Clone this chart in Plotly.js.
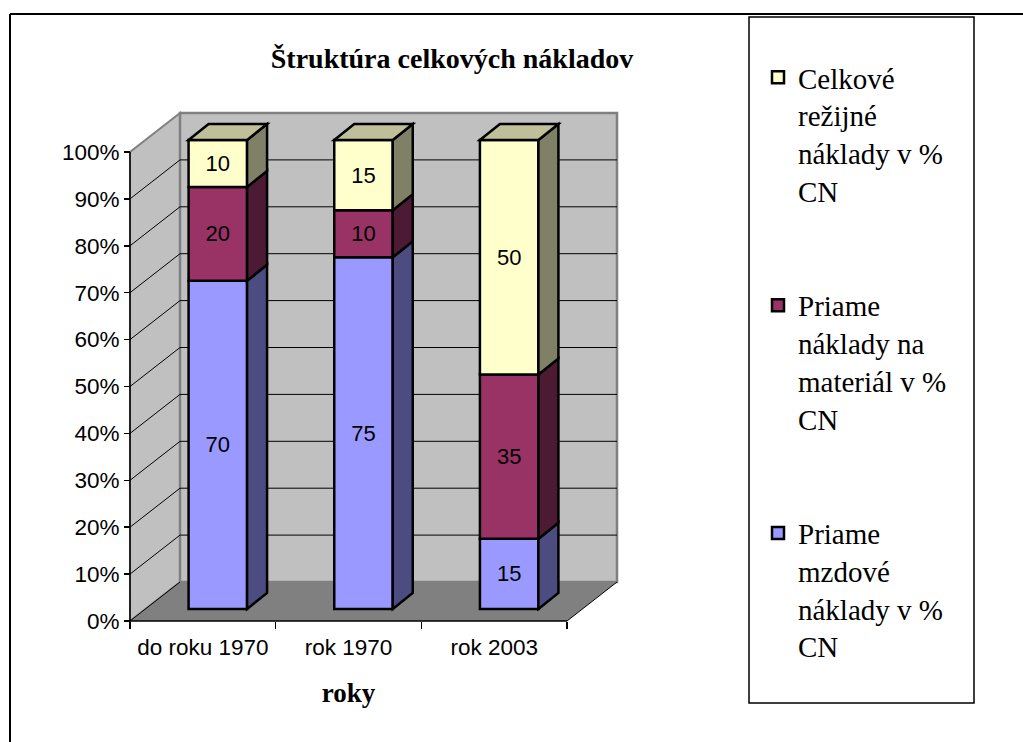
<!DOCTYPE html>
<html>
<head>
<meta charset="utf-8">
<script src="https://cdn.plot.ly/plotly-3.0.1.min.js"></script>
<style>html,body{margin:0;padding:0;background:#fff;}#chart{width:1023px;height:742px;}</style>
</head>
<body>
<div id="chart"></div>
<script>
// ---- data ----
const categories = ['do roku 1970', 'rok 1970', 'rok 2003'];
const priameMzdove = [70, 75, 15];
const priameMaterial = [20, 10, 35];
const celkoveRezijne = [10, 15, 50];
const seriesNames = [
  'Priame<br>mzdové<br>náklady v %<br>CN',
  'Priame<br>náklady na<br>materiál v %<br>CN',
  'Celkové<br>režijné<br>náklady v %<br>CN'
];
const yTickValues = [0, 10, 20, 30, 40, 50, 60, 70, 80, 90, 100];
const yTickLabels = yTickValues.map(v => v + '%');

// ---- geometry (pixels) ----
const W = 1023, H = 742;
const frontLeft = 130, frontRight = 567;     // x of category -0.5 and 2.5 on the front plane
const zeroY = 621, hundredY = 152;           // y of 0% and 100% on the front plane
const ux = (frontRight - frontLeft) / 3;     // px per category
const uy = (zeroY - hundredY) / 100;         // px per percent
const domLeft = 69, domRight = 628, domTop = 104, domBottom = 630;

const xRange = [-0.5 - (frontLeft - domLeft) / ux, -0.5 + (domRight - frontLeft) / ux];
const yRange = [-(domBottom - zeroY) / uy, (zeroY - domTop) / uy];

// depth offsets in data units
const wallDX = 50 / ux, wallDY = 39 / uy;
const barFX = 15 / ux, barFY = 12 / uy;
const barDX = 20 / ux, barDY = 16 / uy;
const barW = 58.5 / ux;
const barOffset = -barW / 2 + barFX;

const frontColors = ['#9999FF', '#993366', '#FFFFCC'];
const sideColors = ['#4C4C80', '#4D1A33', '#808066'];
const topColor = '#BFBF99';
const sansFont = 'Liberation Sans, Arial, sans-serif';
const serifFont = 'Liberation Serif, Times New Roman, serif';

const series = [priameMzdove, priameMaterial, celkoveRezijne];
const bases = [];
let running = categories.map(() => barFY);
series.forEach((vals) => {
  bases.push(running.slice());
  running = running.map((r, i) => r + vals[i]);
});

const traces = series.map((vals, s) => ({
  type: 'bar',
  name: seriesNames[s],
  legendgroup: 'g' + s,
  legendrank: series.length - s,
  x: categories,
  y: vals,
  base: bases[s],
  width: barW,
  offset: barOffset,
  marker: {color: frontColors[s], line: {color: '#000', width: 2.5}},
  text: vals.map(v => String(v)),
  texttemplate: '%{text}',
  textposition: 'inside',
  insidetextanchor: 'middle',
  constraintext: 'none',
  textangle: 0,
  textfont: {family: sansFont, size: 22, color: '#000'},
  hoverinfo: 'skip'
}));

const shapes = [];
const L = -0.5, R = 2.5;
// side wall
shapes.push({type: 'path', xref: 'x', yref: 'y', layer: 'below',
  path: `M${L},0 L${L + wallDX},${wallDY} L${L + wallDX},${100 + wallDY} L${L},100 Z`,
  fillcolor: '#C0C0C0', line: {color: '#808080', width: 2}});
// back wall
shapes.push({type: 'rect', xref: 'x', yref: 'y', layer: 'below',
  x0: L + wallDX, x1: R + wallDX, y0: wallDY, y1: 100 + wallDY,
  fillcolor: '#C0C0C0', line: {color: '#808080', width: 2.5}});
// floor
shapes.push({type: 'path', xref: 'x', yref: 'y', layer: 'below',
  path: `M${L},0 L${R},0 L${R + wallDX},${wallDY} L${L + wallDX},${wallDY} Z`,
  fillcolor: '#808080', line: {width: 0}});
// floor right edge
shapes.push({type: 'line', xref: 'x', yref: 'y', layer: 'below',
  x0: R, y0: 0, x1: R + wallDX, y1: wallDY, line: {color: '#000', width: 1}});
// gridlines
yTickValues.forEach(v => {
  if (v > 0 && v < 100) {
    shapes.push({type: 'line', xref: 'x', yref: 'y', layer: 'below',
      x0: L + wallDX, y0: v + wallDY, x1: R + wallDX, y1: v + wallDY, line: {color: '#000', width: 1}});
  }
  if (v < 100) {
    shapes.push({type: 'line', xref: 'x', yref: 'y', layer: 'below',
      x0: L, y0: v, x1: L + wallDX, y1: v + wallDY, line: {color: '#000', width: 1}});
  }
});
// bar side and top faces
series.forEach((vals, s) => {
  vals.forEach((v, i) => {
    const x1 = i + barOffset + barW;
    const y0 = bases[s][i], y1 = y0 + v;
    shapes.push({type: 'path', xref: 'x', yref: 'y', layer: 'above',
      path: `M${x1},${y0} L${x1 + barDX},${y0 + barDY} L${x1 + barDX},${y1 + barDY} L${x1},${y1} Z`,
      fillcolor: sideColors[s], line: {color: '#000', width: 2.5}});
    if (s === series.length - 1) {
      const x0 = i + barOffset;
      shapes.push({type: 'path', xref: 'x', yref: 'y', layer: 'above',
        path: `M${x0},${y1} L${x0 + barDX},${y1 + barDY} L${x1 + barDX},${y1 + barDY} L${x1},${y1} Z`,
        fillcolor: topColor, line: {color: '#000', width: 2.5}});
    }
  });
});
// axis lines
shapes.push({type: 'line', xref: 'x', yref: 'y', layer: 'above',
  x0: L, y0: 0, x1: L, y1: 100, line: {color: '#000', width: 1.5}});
shapes.push({type: 'line', xref: 'x', yref: 'y', layer: 'above',
  x0: L, y0: 0, x1: R, y1: 0, line: {color: '#000', width: 1.5}});
// legend box
shapes.push({type: 'rect', xref: 'paper', yref: 'paper',
  x0: 749 / W, x1: 974 / W, y0: (H - 703) / H, y1: (H - 17) / H,
  fillcolor: 'rgba(0,0,0,0)', line: {color: '#000', width: 1.5}});
// outer frame
shapes.push({type: 'line', xref: 'paper', yref: 'paper',
  x0: 10 / W, x1: 1.01, y0: (H - 14) / H, y1: (H - 14) / H, line: {color: '#000', width: 2}});
shapes.push({type: 'line', xref: 'paper', yref: 'paper',
  x0: 10 / W, x1: 10 / W, y0: (H - 14) / H, y1: -0.01, line: {color: '#000', width: 2}});

const layout = {
  width: W, height: H,
  margin: {l: 0, r: 0, t: 0, b: 0, pad: 0},
  paper_bgcolor: '#fff',
  plot_bgcolor: 'rgba(0,0,0,0)',
  barmode: 'overlay',
  title: {
    text: '<b>Štruktúra celkových nákladov</b>',
    font: {family: serifFont, size: 28, color: '#000'},
    x: 452 / W, xanchor: 'center', xref: 'paper',
    y: (H - 58) / H, yanchor: 'middle', yref: 'paper'
  },
  xaxis: {
    type: 'category',
    categoryorder: 'array', categoryarray: categories,
    domain: [domLeft / W, domRight / W],
    range: xRange,
    anchor: 'free', position: (H - zeroY) / H,
    showline: false, showgrid: false, zeroline: false,
    ticks: 'outside', tickson: 'boundaries', ticklen: 7, tickwidth: 1.5, tickcolor: '#000',
    ticklabelstandoff: 10,
    tickfont: {family: sansFont, size: 22.5, color: '#000'},
    title: {text: '<b>roky</b>', standoff: 24,
      font: {family: serifFont, size: 27, color: '#000'}},
    fixedrange: true
  },
  yaxis: {
    domain: [(H - domBottom) / H, (H - domTop) / H],
    range: yRange,
    anchor: 'free', position: frontLeft / W,
    showline: false, showgrid: false, zeroline: false,
    tickmode: 'array', tickvals: yTickValues, ticktext: yTickLabels,
    ticks: 'outside', ticklen: 6, tickwidth: 1.5, tickcolor: '#000',
    tickfont: {family: sansFont, size: 22.5, color: '#000'},
    fixedrange: true
  },
  showlegend: true,
  legend: {
    x: 758 / W, xanchor: 'left', y: (H - 52) / H, yanchor: 'top',
    traceorder: 'grouped', tracegroupgap: 74, valign: 'top',
    bgcolor: 'rgba(0,0,0,0)', borderwidth: 0,
    font: {family: serifFont, size: 29, color: '#000'}
  },
  shapes: shapes
};

Plotly.newPlot('chart', traces, layout, {displayModeBar: false, staticPlot: true});
</script>
</body>
</html>
